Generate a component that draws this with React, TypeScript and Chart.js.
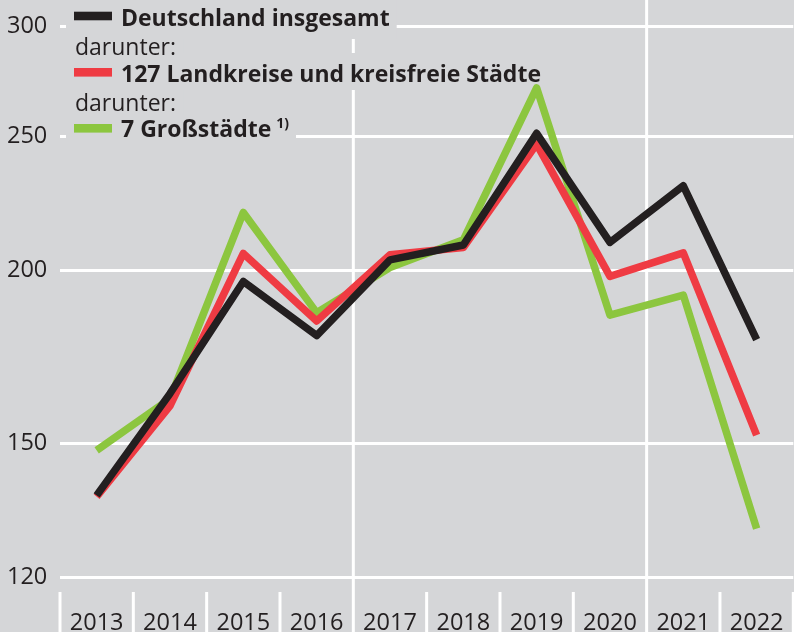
import React, { useEffect, useRef } from 'react';
import { Chart, registerables } from 'chart.js';

Chart.register(...registerables);

// ---- data ----
const years = ['2013', '2014', '2015', '2016', '2017', '2018', '2019', '2020', '2021', '2022'];
const deutschland = [137.6, 163.0, 196.4, 179.5, 203.6, 208.7, 251.3, 209.6, 230.3, 178.3];
const landkreise = [137.3, 159.7, 205.8, 183.9, 205.3, 207.8, 246.8, 198.1, 206.0, 152.1];
const grossstaedte = [148.3, 161.6, 220.3, 186.5, 201.0, 210.5, 271.0, 185.7, 192.0, 130.2];
const yTicks = [120, 150, 200, 250, 300];
const seriesLabels = ['Deutschland insgesamt', '127 Landkreise und kreisfreie Städte', '7 Großstädte'];
const subLabel = 'darunter:';
const footnoteMark = '1)';
const dividerAfter = ['2016', '2020'];

// ---- styles ----
const BG = '#d5d6d8';
const TEXT = '#231f20';
const BLACK = '#231f20';
const RED = '#ef3b43';
const GREEN = '#8cc63f';
const FONT = '"Open Sans", "Noto Sans", sans-serif';
const FS = 23.5;
const LFS = 23;

const bgPlugin = {
  id: 'bgFill',
  beforeDraw(chart: any) {
    const { ctx, width, height } = chart;
    ctx.save();
    ctx.fillStyle = BG;
    ctx.fillRect(0, 0, width, height);
    ctx.restore();
  },
};

const decoPlugin = {
  id: 'deco',
  beforeDatasetsDraw(chart: any) {
    const { ctx, chartArea, height } = chart;
    const xs = chart.scales.x;
    const n = years.length;
    const band = (chartArea.right - chartArea.left) / n;
    ctx.save();
    ctx.strokeStyle = '#ffffff';
    ctx.lineWidth = 3;
    for (let i = 0; i <= n; i++) {
      const px = xs.getPixelForValue(0) - band / 2 + i * band;
      const full = i > 0 && i < n && dividerAfter.includes(years[i - 1]);
      ctx.beginPath();
      ctx.moveTo(px, full ? 0 : 592);
      ctx.lineTo(px, height);
      ctx.stroke();
    }

    // legend
    const rows: any[] = [
      { text: seriesLabels[0], bold: true, base: 26, top: 0, bottom: 39, swatch: BLACK, sy: 16 },
      { text: subLabel, bold: false, base: 55, top: 39, bottom: 53 },
      { text: seriesLabels[1], bold: true, base: 82, top: 53, bottom: 90, swatch: RED, sy: 72.3 },
      { text: subLabel, bold: false, base: 111, top: 90, bottom: 115 },
      { text: seriesLabels[2], bold: true, base: 136.7, top: 115, bottom: 146, swatch: GREEN, sy: 128.3, note: true },
    ];
    ctx.textBaseline = 'alphabetic';
    ctx.textAlign = 'left';
    // boxes first
    for (const r of rows) {
      r.tx = r.swatch ? 121 : 75;
      ctx.font = `${r.bold ? 'bold ' : ''}${LFS}px ${FONT}`;
      r.w = ctx.measureText(r.text).width;
      let end = r.tx + r.w;
      if (r.note) {
        ctx.font = `bold 14px ${FONT}`;
        end += 5 + ctx.measureText(footnoteMark).width;
      }
      ctx.fillStyle = BG;
      ctx.fillRect(66, r.top, end + 7 - 66, r.bottom - r.top);
    }
    // swatches and text
    for (const r of rows) {
      if (r.swatch) {
        ctx.fillStyle = r.swatch;
        ctx.fillRect(74, r.sy - 4.3, 38, 8.6);
      }
      ctx.fillStyle = TEXT;
      ctx.font = `${r.bold ? 'bold ' : ''}${LFS}px ${FONT}`;
      ctx.fillText(r.text, r.tx, r.base);
      if (r.note) {
        ctx.font = `bold 14px ${FONT}`;
        ctx.fillText(footnoteMark, r.tx + r.w + 5, 128);
      }
    }
    ctx.restore();
  },
};

export default function App() {
  const ref = useRef<HTMLCanvasElement | null>(null);

  useEffect(() => {
    document.body.style.margin = '0';
    const canvas = ref.current;
    if (!canvas) return;
    const mk = (label: string, data: number[], color: string) => ({
      label,
      data,
      borderColor: color,
      backgroundColor: color,
      borderWidth: 7.5,
      borderJoinStyle: 'round' as const,
      borderCapStyle: 'butt' as const,
      pointRadius: 0,
      pointHoverRadius: 0,
      tension: 0,
      fill: false,
    });
    const chart = new Chart(canvas, {
      type: 'line',
      data: {
        labels: years,
        datasets: [
          mk(seriesLabels[0], deutschland, BLACK),
          mk(seriesLabels[1], landkreise, RED),
          mk(seriesLabels[2], grossstaedte, GREEN),
        ],
      },
      options: {
        responsive: false,
        animation: false,
        events: [],
        layout: { padding: { top: 24.3, left: 0, right: 0.7, bottom: 0 } },
        plugins: {
          legend: { display: false },
          tooltip: { enabled: false },
          title: { display: false },
        },
        scales: {
          x: {
            type: 'category',
            offset: true,
            grid: { display: false, drawTicks: false },
            border: { display: false },
            ticks: {
              color: TEXT,
              padding: 32,
              font: { family: FONT, size: FS },
              maxRotation: 0,
              autoSkip: false,
            },
            afterFit(scale: any) {
              scale.height = 54.3;
              scale.paddingLeft = 0;
              scale.paddingRight = 0;
            },
          },
          y: {
            type: 'logarithmic',
            min: 120,
            max: 300,
            grid: { color: '#ffffff', lineWidth: 3, drawTicks: false },
            border: { display: false },
            ticks: {
              color: TEXT,
              padding: 12.7,
              font: { family: FONT, size: FS },
              callback: (v: any) => String(v),
            },
            afterBuildTicks(scale: any) {
              scale.ticks = yTicks.map((v) => ({ value: v }));
            },
            afterFit(scale: any) {
              scale.width = 60;
            },
          },
        },
      },
      plugins: [bgPlugin, decoPlugin],
    });
    return () => chart.destroy();
  }, []);

  return (
    <div style={{ position: 'absolute', left: 0, top: 0, width: 794, height: 632 }}>
      <canvas ref={ref} width={794} height={632} style={{ display: 'block', width: 794, height: 632 }} />
    </div>
  );
}
